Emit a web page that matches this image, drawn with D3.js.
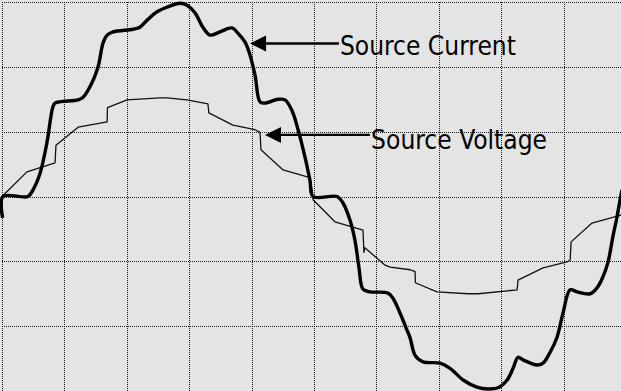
<!DOCTYPE html>
<html>
<head>
<meta charset="utf-8">
<script src="https://cdn.jsdelivr.net/npm/d3@7"></script>
<style>
  html, body { margin: 0; padding: 0; background: #e4e4e4; }
  svg { display: block; }
</style>
</head>
<body>
<svg id="chart" width="621" height="391"></svg>
<script>
// One mains period: time in ms, amplitude in grid divisions
const xTicks = [0, 2, 4, 6, 8, 10, 12, 14, 16, 18, 20];
const yTicks = [-3, -2, -1, 0, 1, 2, 3];

const currentT = [0.02, 0.03, 0.83, 0.99, 1.22, 1.44, 1.63, 1.70, 2.44, 2.60, 2.88, 3.08, 3.24, 3.37, 3.56,
  4.20, 4.42, 4.65, 4.97, 5.29, 5.71, 5.93, 6.19, 6.44, 6.67, 6.99, 7.37, 7.56, 7.79, 7.95, 8.11,
  8.27, 8.43, 8.85, 9.07, 9.29, 9.49, 9.71, 9.87, 9.97, 10.74, 10.93, 11.15, 11.31, 11.44, 11.57,
  11.79, 12.37, 12.53, 12.76, 12.98, 13.08, 13.24, 13.49, 14.04, 14.36, 14.78, 15.22, 15.58, 15.90,
  16.19, 16.38, 16.54, 16.70, 17.15, 17.34, 17.56, 17.79, 17.98, 18.21, 18.43, 18.85, 19.07, 19.26,
  19.42, 19.58, 19.71, 19.81, 19.87];
const currentI = [-0.33, 0.00, 0.00, 0.10, 0.36, 0.83, 1.38, 1.44, 1.49, 1.53, 1.75, 2.00, 2.37, 2.49, 2.54,
  2.58, 2.61, 2.72, 2.85, 2.92, 2.98, 2.95, 2.83, 2.61, 2.49, 2.54, 2.60, 2.52, 2.38, 2.18, 1.87,
  1.46, 1.44, 1.50, 1.49, 1.33, 1.03, 0.61, 0.25, 0.00, 0.00, -0.10, -0.36, -0.67, -1.09, -1.43,
  -1.47, -1.49, -1.57, -1.80, -2.06, -2.18, -2.45, -2.55, -2.57, -2.65, -2.83, -2.94, -2.97, -2.95,
  -2.83, -2.65, -2.48, -2.52, -2.60, -2.57, -2.41, -2.17, -1.80, -1.44, -1.47, -1.50, -1.41, -1.24,
  -1.02, -0.62, -0.32, -0.05, 0.10];

const voltageT = [0.00, 0.80, 1.70, 1.73, 2.44, 3.37, 3.38, 4.01, 5.06, 5.29, 5.93, 6.60, 6.63, 7.40, 8.11,
  8.27, 8.30, 9.01, 9.87, 9.94, 9.97, 10.67, 11.57, 11.60, 11.63, 12.28, 12.44, 13.08, 13.24, 13.25,
  13.94, 14.94, 15.26, 16.51, 16.54, 17.34, 18.11, 18.21, 18.24, 18.91, 19.81, 19.97];
const voltageV = [0.00, 0.38, 0.52, 0.79, 1.07, 1.15, 1.37, 1.49, 1.52, 1.52, 1.49, 1.43, 1.29, 1.10, 1.03,
  0.99, 0.72, 0.41, 0.29, 0.10, -0.05, -0.39, -0.52, -0.86, -0.79, -1.06, -1.09, -1.13, -1.16, -1.33,
  -1.47, -1.50, -1.50, -1.44, -1.29, -1.10, -1.01, -0.98, -0.70, -0.41, -0.29, -0.25];

const labels = ["Source Current", "Source Voltage"];

const svg = d3.select("#chart");
const W = 621, H = 391;

svg.append("rect").attr("width", W).attr("height", H).attr("fill", "#e4e4e4");

const x = d3.scaleLinear().domain([0, 20]).range([2, 626]);
const y = d3.scaleLinear().domain([-3, 3]).range([391, 2]);

// Dotted grid
const grid = svg.append("g")
  .attr("stroke", "#1a1a1a")
  .attr("stroke-width", 1)
  .attr("stroke-dasharray", "1,1")
  .attr("shape-rendering", "crispEdges");

grid.selectAll("line.v").data(xTicks).join("line")
  .attr("class", "v")
  .attr("x1", d => Math.round(x(d)) + 0.5).attr("x2", d => Math.round(x(d)) + 0.5)
  .attr("y1", y(3)).attr("y2", y(-3));

grid.selectAll("line.h").data(yTicks).join("line")
  .attr("class", "h")
  .attr("y1", d => Math.round(y(d)) + 0.5).attr("y2", d => Math.round(y(d)) + 0.5)
  .attr("x1", x(0)).attr("x2", x(20));

// Waveforms
const voltage = voltageT.map((t, i) => [t, voltageV[i]]);
const current = currentT.map((t, i) => [t, currentI[i]]);

svg.append("path")
  .datum(voltage)
  .attr("fill", "none")
  .attr("stroke", "#111")
  .attr("stroke-width", 1.3)
  .attr("stroke-linejoin", "round")
  .attr("d", d3.line().x(d => x(d[0])).y(d => y(d[1])));

svg.append("path")
  .datum(current)
  .attr("fill", "none")
  .attr("stroke", "#000")
  .attr("stroke-width", 3.4)
  .attr("stroke-linejoin", "round")
  .attr("d", d3.line().curve(d3.curveCatmullRom.alpha(0.5)).x(d => x(d[0])).y(d => y(d[1])));

// Annotations: arrow pointing at each trace, label to the right
const notes = [
  { text: labels[0], tipT: 7.95, tipV: 2.36, endT: 10.80, textT: 10.83, textV: 2.18 },
  { text: labels[1], tipT: 8.43, tipV: 0.95, endT: 11.79, textT: 11.83, textV: 0.74 }
];

const ann = svg.append("g");
notes.forEach(n => {
  const tx = x(n.tipT), ty = y(n.tipV);
  ann.append("line")
    .attr("x1", tx + 14).attr("x2", x(n.endT))
    .attr("y1", ty).attr("y2", ty)
    .attr("stroke", "#000").attr("stroke-width", 2.4);
  ann.append("path")
    .attr("d", `M${tx},${ty} L${tx + 16},${ty - 8} L${tx + 16},${ty + 8} Z`)
    .attr("fill", "#000");
  ann.append("text")
    .attr("x", x(n.textT)).attr("y", y(n.textV))
    .attr("font-family", "'DejaVu Sans Condensed', 'DejaVu Sans', sans-serif")
    .attr("font-size", 27)
    .attr("textLength", 176)
    .attr("lengthAdjust", "spacingAndGlyphs")
    .attr("fill", "#000")
    .text(n.text);
});
</script>
</body>
</html>
